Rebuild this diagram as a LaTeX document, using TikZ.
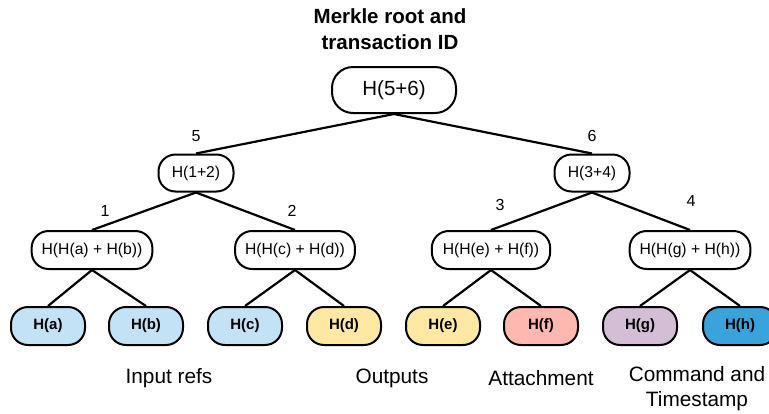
\documentclass[tikz,border=0pt]{standalone}
\usepackage{fontspec}
\setmainfont{Liberation Sans}
\usetikzlibrary{positioning}

\definecolor{inblue}{RGB}{196,226,245}
\definecolor{outyellow}{RGB}{255,232,163}
\definecolor{attpink}{RGB}{255,184,176}
\definecolor{cmdpurple}{RGB}{212,190,214}
\definecolor{tsblue}{RGB}{58,163,220}

\tikzset{
  hash/.style={draw, line width=2pt, fill=white, rounded corners=17pt, inner sep=0pt,
    minimum height=38pt, font=\fontsize{15.7}{18}\selectfont},
  leaf/.style={hash, minimum width=74pt, font=\bfseries\fontsize{15}{18}\selectfont},
  num/.style={font=\fontsize{16}{18}\selectfont},
  caption/.style={font=\fontsize{20.8}{25}\selectfont, align=center}
}

\begin{document}
\begin{tikzpicture}[x=1pt,y=-1pt]
\useasboundingbox (0,0) rectangle (769,413);

\node[font=\bfseries\fontsize{20.5}{26}\selectfont, align=center] (title) at (390,29) {Merkle root and\\transaction ID};

\node[hash, minimum width=124pt, minimum height=46pt, rounded corners=21pt, font=\fontsize{20.5}{24}\selectfont] (r) at (394,90) {H(5+6)};

\node[hash, minimum width=75pt, minimum height=37pt] (h12) at (196,173) {H(1+2)};
\node[hash, minimum width=75pt, minimum height=37pt] (h34) at (592,173) {H(3+4)};

\node[hash, inner xsep=10pt] (hab) at (92,250) {H(H(a) + H(b))};
\node[hash, inner xsep=10pt] (hcd) at (295,250) {H(H(c) + H(d))};
\node[hash, inner xsep=11pt] (hef) at (491,250) {H(H(e) + H(f))};
\node[hash, inner xsep=10pt] (hgh) at (690,250) {H(H(g) + H(h))};

\node[leaf, fill=inblue] (ha) at (48,326) {H(a)};
\node[leaf, fill=inblue] (hb) at (146,326) {H(b)};
\node[leaf, fill=inblue] (hc) at (245,326) {H(c)};
\node[leaf, fill=outyellow] (hd) at (344,326) {H(d)};
\node[leaf, fill=outyellow] (he) at (443,326) {H(e)};
\node[leaf, fill=attpink] (hf) at (541,326) {H(f)};
\node[leaf, fill=cmdpurple] (hg) at (640,326) {H(g)};
\node[leaf, fill=tsblue] (hh) at (740,326) {H(h)};

\node[num] (n5) at (196,136) {5};
\node[num] (n6) at (592,136) {6};
\node[num] (n1) at (105,211) {1};
\node[num] (n2) at (292,211) {2};
\node[num] (n3) at (500,205) {3};
\node[num] (n4) at (691,201) {4};

\node[caption] (inputs) at (169,378) {Input refs};
\node[caption] (outputs) at (392,378) {Outputs};
\node[caption] (attach) at (541,378) {Attachment};
\node[caption] (cmd) at (697,389) {Command and\\Timestamp};

\begin{scope}[line width=2.2pt]
\draw (r.south) -- (h12.north);
\draw (r.south) -- (h34.north);

\draw (h12.south) -- (hab.north);
\draw (h12.south) -- (hcd.north);
\draw (h34.south) -- (hef.north);
\draw (h34.south) -- (hgh.north);

\draw (hab.south) -- (ha.north);
\draw (hab.south) -- (hb.north);
\draw (hcd.south) -- (hc.north);
\draw (hcd.south) -- (hd.north);
\draw (hef.south) -- (he.north);
\draw (hef.south) -- (hf.north);
\draw (hgh.south) -- (hg.north);
\draw (hgh.south) -- (hh.north);
\end{scope}

\end{tikzpicture}
\end{document}
